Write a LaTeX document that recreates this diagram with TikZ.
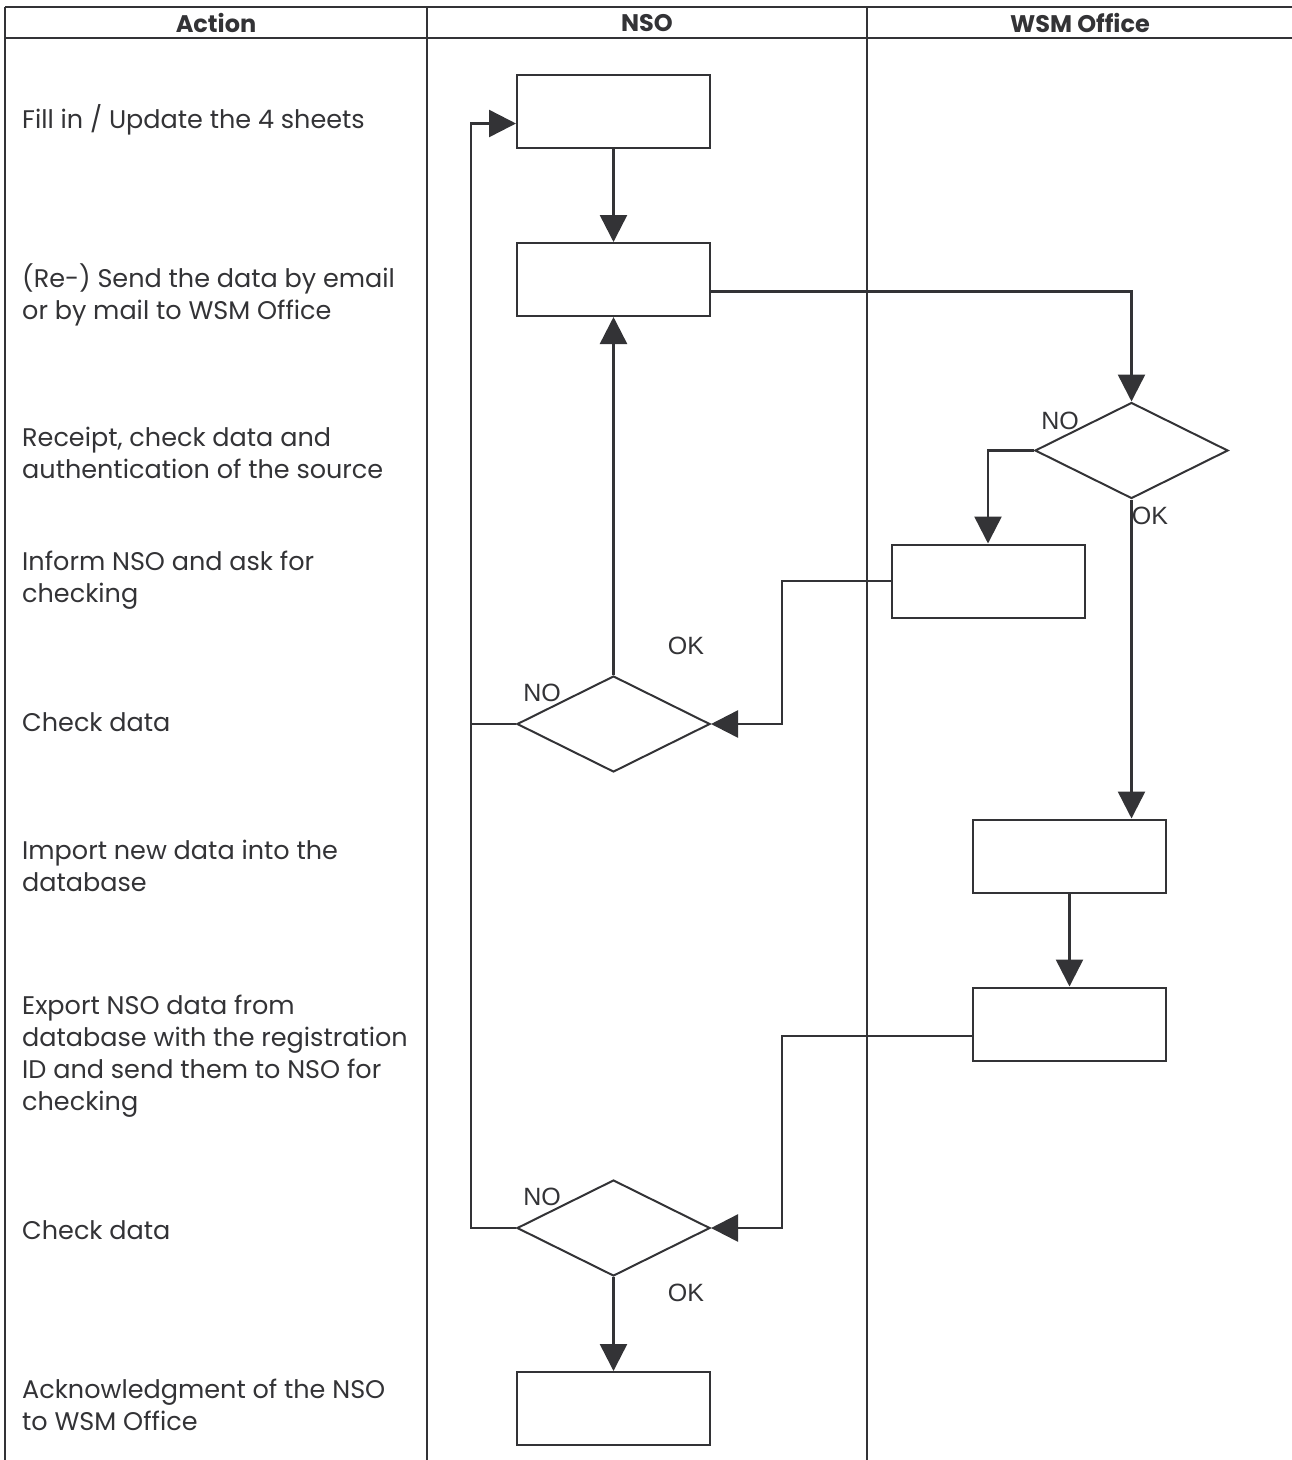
\documentclass[tikz,border=0pt]{standalone}
\usepackage{fontspec}
\setmainfont{Poppins}
\newfontfamily\lblfont{Liberation Sans}
\usetikzlibrary{arrows.meta,shapes.geometric}
\definecolor{ink}{HTML}{333336}
\begin{document}
\begin{tikzpicture}[x=1pt,y=-1pt,line join=miter,
  grid/.style={draw=ink,line width=1.5pt},
  box/.style={draw=ink,line width=2pt,rectangle,minimum width=193pt,minimum height=73pt,inner sep=0pt},
  dia/.style={draw=ink,line width=2pt,diamond,minimum width=193pt,minimum height=96pt,inner sep=0pt},
  conn/.style={draw=ink,line width=2.5pt,-{Triangle[length=27pt,width=27pt]}},
  link/.style={draw=ink,line width=2.5pt},
  head/.style={text=ink,font=\fontsize{24}{28}\selectfont\bfseries,inner sep=0pt},
  act/.style={text=ink,font=\fontsize{25.5}{32}\selectfont,align=left,anchor=west,inner sep=0pt},
  lbl/.style={text=ink,font=\lblfont\fontsize{25}{28}\selectfont,inner sep=0pt}]
\useasboundingbox (0,0) rectangle (1292,1460);
% table
\draw[grid] (5,7) -- (1292,7);
\draw[grid] (5,38) -- (1292,38);
\draw[grid] (5,7) -- (5,1460);
\draw[grid] (427,7) -- (427,1460);
\draw[grid] (867,7) -- (867,1460);
\node[head] (h1) at (216,23) {Action};
\node[head] (h2) at (647,23) {NSO};
\node[head] (h3) at (1080,23) {WSM Office};
% actions
\node[act] (a1) at (22,120) {Fill in / Update the 4 sheets};
\node[act] (a2) at (22,295) {(Re-) Send the data by email\\or by mail to WSM Office};
\node[act] (a3) at (22,453) {Receipt, check data and\\authentication of the source};
\node[act] (a4) at (22,580) {Inform NSO and ask for\\checking};
\node[act] (a5) at (22,722) {Check data};
\node[act] (a6) at (22,866) {Import new data into the\\database};
\node[act] (a7) at (22,1056) {Export NSO data from\\database with the registration\\ID and send them to NSO for\\checking};
\node[act] (a8) at (22,1230) {Check data};
\node[act] (a9) at (22,1405) {Acknowledgment of the NSO\\to WSM Office};
% shapes
\node[box] (b1) at (613.5,111.5) {};
\node[box] (b2) at (613.5,279.5) {};
\node[dia] (d1) at (1131.5,450.5) {};
\node[box] (b3) at (988,581) {};
\node[dia] (d2) at (613.5,724) {};
\node[box] (b4) at (1069.5,856) {};
\node[box] (b5) at (1069.5,1024) {};
\node[dia] (d3) at (613.5,1228) {};
\node[box] (b6) at (613.5,1408.5) {};
\coordinate (j1) at (782,0);
\coordinate (j2) at (471,0);
% connectors
\draw[conn] (b1.south) -- (b2.north);
\draw[conn] ([yshift=-12pt]b2.east) -| (d1.north);
\draw[conn] (d1.west) -| (b3.north);
\draw[conn] (b3.west) -| (j1 |- d2.east) -- (d2.east);
\draw[conn] (d2.north) -- (b2.south);
\draw[conn] (d2.west) -- (j2 |- d2.west) |- ([yshift=-12pt]b1.west);
\draw[conn] (d1.south) -- (d1.south |- b4.north);
\draw[conn] (b4.south) -- (b5.north);
\draw[conn] ([yshift=-12pt]b5.west) -| (j1 |- d3.east) -- (d3.east);
\draw[link] (d3.west) -- (j2 |- d3.west) -- (j2 |- d2.west);
\draw[conn] (d3.south) -- (b6.north);
% labels
\node[lbl] (l1) at (1060,421) {NO};
\node[lbl] (l2) at (1150,516) {OK};
\node[lbl] (l3) at (686,646) {OK};
\node[lbl] (l4) at (542,693) {NO};
\node[lbl] (l5) at (542,1197) {NO};
\node[lbl] (l6) at (686,1293) {OK};
\end{tikzpicture}
\end{document}
